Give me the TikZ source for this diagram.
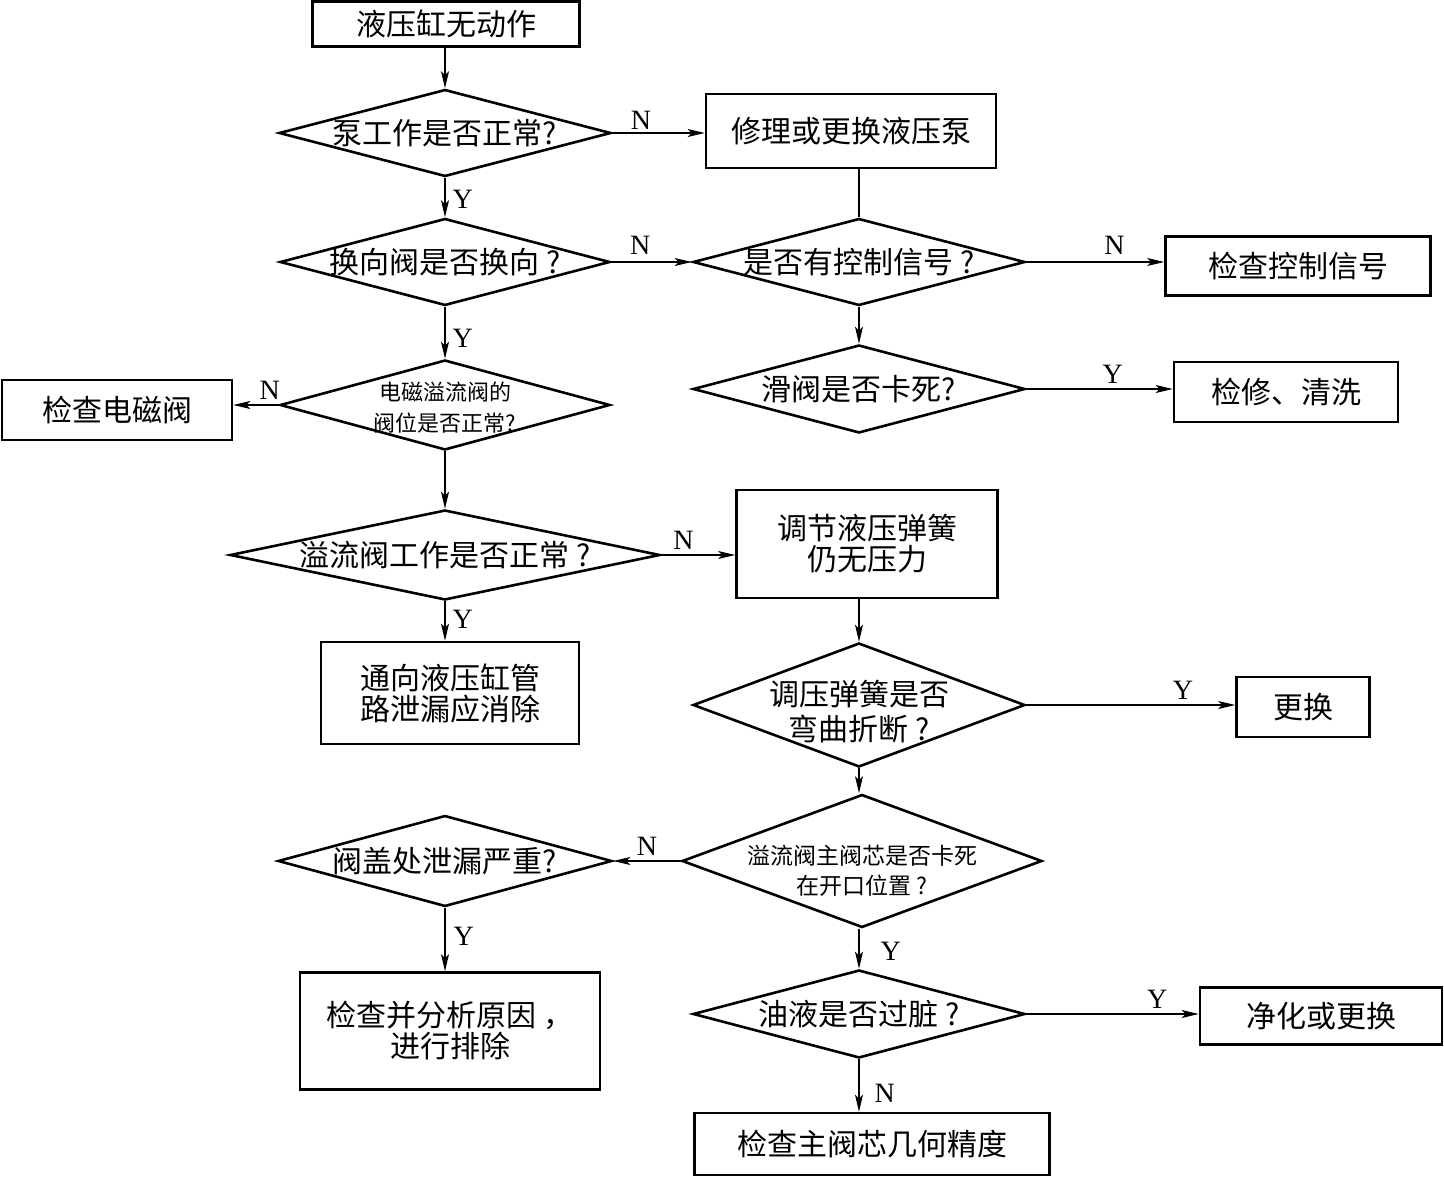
\documentclass[tikz,border=0pt]{standalone}
\usepackage{fontspec}
\setmainfont{Noto Sans CJK SC}
\newfontfamily\lat{Liberation Serif}
\usetikzlibrary{shapes.geometric,arrows.meta}
\newcommand{\done}[2][0pt]{\smash{\makebox[0pt]{\raisebox{\dimexpr-0.38em-#1\relax}{#2}}}}
\newcommand{\dtwo}[3][0pt]{\smash{\makebox[0pt]{\raisebox{\dimexpr-0.45em-#1\relax}{\begin{tabular}{@{}c@{}}#2\\#3\end{tabular}}}}}
\begin{document}
\begin{tikzpicture}[x=1pt,y=-1pt,
  box/.style={draw,line width=2.6pt,rectangle,inner sep=0pt,align=center,font=\fontsize{30}{31}\selectfont},
  dia/.style={draw,line width=2.6pt,diamond,inner sep=0pt,font=\fontsize{30}{31}\selectfont},
  conn/.style={line width=1.3pt,-{Stealth[length=17pt,width=8pt,inset=4pt]}},
  plainline/.style={line width=1.3pt},
  lab/.style={font=\lat\fontsize{28}{28}\selectfont,inner sep=3pt}
]
\useasboundingbox (0,0) rectangle (1444,1177);

% nodes
\node[box,minimum width=267,minimum height=45] (b1) at (446,24) {液压缸无动作};
\node[dia,minimum width=332,minimum height=87] (d2) at (445,133) {\done{泵工作是否正常?}};
\node[box,minimum width=290,minimum height=74] (b3) at (851,131) {修理或更换液压泵};
\node[dia,minimum width=330,minimum height=87] (d4) at (445,262) {\done{换向阀是否换向 ?}};
\node[dia,minimum width=332,minimum height=87] (d5) at (859,262) {\done{是否有控制信号 ?}};
\node[box,minimum width=265,minimum height=59] (b6) at (1298,266) {检查控制信号};
\node[dia,minimum width=332,minimum height=88] (d7) at (859,389) {\done{滑阀是否卡死?}};
\node[box,minimum width=224,minimum height=60] (b8) at (1286,392) {检修、清洗};
\node[dia,minimum width=330,minimum height=90,font=\fontsize{22}{31}\selectfont] (d9) at (445,405) {\dtwo{电磁溢流阀的}{阀位是否正常?}};
\node[box,minimum width=230,minimum height=60] (b10) at (117,410) {检查电磁阀};
\node[dia,minimum width=430,minimum height=90] (d11) at (445,555) {\done{溢流阀工作是否正常 ?}};
\node[box,minimum width=261,minimum height=108] (b12) at (867,544) {调节液压弹簧\\仍无压力};
\node[box,minimum width=258,minimum height=102] (b13) at (450,693) {通向液压缸管\\路泄漏应消除};
\node[dia,minimum width=332,minimum height=124] (d14) at (859,705) {\dtwo[3pt]{调压弹簧是否}{弯曲折断 ?}};
\node[box,minimum width=133,minimum height=60] (b15) at (1303,707) {更换};
\node[dia,minimum width=360,minimum height=133,font=\fontsize{23}{30}\selectfont] (d16) at (862,861) {\dtwo[8pt]{溢流阀主阀芯是否卡死}{在开口位置 ?}};
\node[dia,minimum width=334,minimum height=91] (d17) at (445,861) {\done{阀盖处泄漏严重?}};
\node[box,minimum width=300,minimum height=117] (b18) at (450,1031) {检查并分析原因 ，\\进行排除};
\node[dia,minimum width=332,minimum height=88] (d19) at (859,1014) {\done{油液是否过脏 ?}};
\node[box,minimum width=242,minimum height=57] (b20) at (1321,1016) {净化或更换};
\node[box,minimum width=355,minimum height=62] (b21) at (872,1144) {检查主阀芯几何精度};

% connectors
\draw[conn] (b1.south -| d2.north) -- (d2.north);
\draw[conn] (d2.east) -- (d2.east -| b3.west) node[lab,pos=0.31,above] {N};
\draw[conn] (d2.south) -- (d4.north) node[lab,pos=0.55,right,xshift=4pt] {Y};
\draw[plainline] (b3.south -| d5.north) -- (d5.north);
\draw[conn] (d4.east) -- (d5.west) node[lab,pos=0.36,above,yshift=4pt] {N};
\draw[conn] (d5.east) -- (d5.east -| b6.west) node[lab,pos=0.64,above,yshift=4pt] {N};
\draw[conn] (d5.south) -- (d7.north);
\draw[conn] (d7.east) -- (d7.east -| b8.west) node[lab,pos=0.59,above,yshift=2pt] {Y};
\draw[conn] (d4.south) -- (d9.north) node[lab,pos=0.6,right,xshift=4pt] {Y};
\draw[conn] (d9.west) -- (d9.west -| b10.east) node[lab,pos=0.2,above,yshift=2pt] {N};
\draw[conn] (d9.south) -- (d11.north);
\draw[conn] (d11.east) -- (d11.east -| b12.west) node[lab,pos=0.3,above,yshift=2pt] {N};
\draw[conn] (d11.south) -- (d11.south |- b13.north) node[lab,pos=0.47,right,xshift=4pt] {Y};
\draw[conn] (b12.south -| d14.north) -- (d14.north);
\draw[conn] (d14.east) -- (d14.east -| b15.west) node[lab,pos=0.75,above,yshift=2pt] {Y};
\draw[conn] (d14.south) -- (d14.south |- d16.north);
\draw[conn] (d16.west) -- (d17.east) node[lab,pos=0.5,above,yshift=2pt] {N};
\draw[conn] (d17.south) -- (d17.south |- b18.north) node[lab,pos=0.45,right,xshift=5pt] {Y};
\draw[conn] (d19.north |- d16.south) -- (d19.north) node[lab,pos=0.57,right,xshift=18pt] {Y};
\draw[conn] (d19.east) -- (d19.east -| b20.west) node[lab,pos=0.76,above,yshift=2pt] {Y};
\draw[conn] (d19.south) -- (d19.south |- b21.north) node[lab,pos=0.65,right,xshift=12pt] {N};
\end{tikzpicture}
\end{document}
